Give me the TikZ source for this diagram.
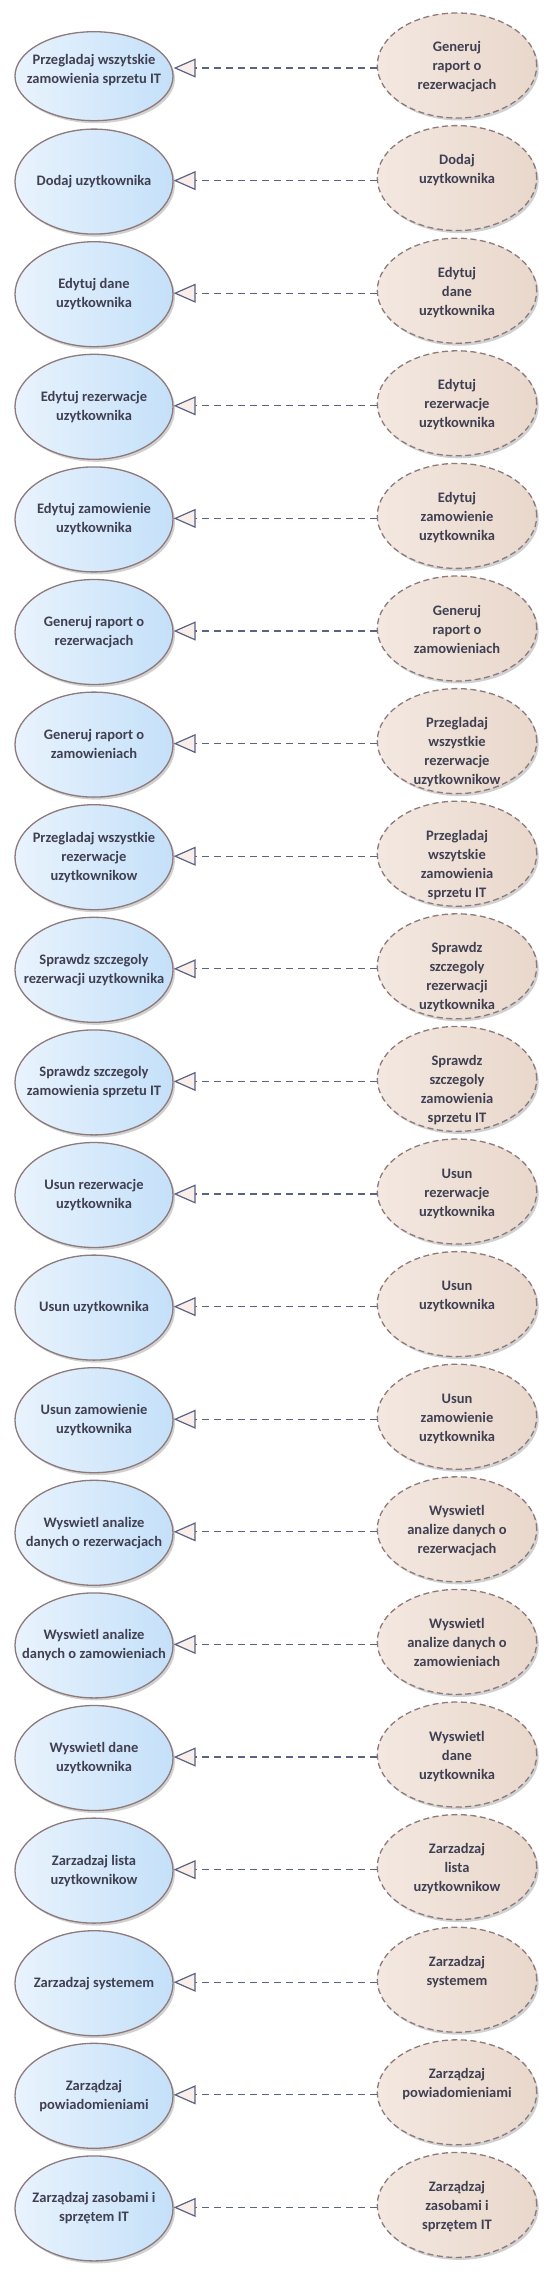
\documentclass[tikz,border=0pt]{standalone}
\usepackage{fontspec}
\setmainfont{Carlito}
\usetikzlibrary{shapes.geometric,arrows.meta,shadows}
\definecolor{txt}{RGB}{64,64,82}
\definecolor{ucborder}{RGB}{142,122,122}
\definecolor{bluel}{RGB}{233,243,253}
\definecolor{bluer}{RGB}{196,224,249}
\definecolor{tanl}{RGB}{243,232,225}
\definecolor{tanr}{RGB}{233,215,203}
\definecolor{depcol}{RGB}{90,100,130}
\definecolor{arrfill}{RGB}{250,238,235}
\newcommand{\uclabel}[2]{\smash{\makebox[0pt]{\raisebox{#1}{\begin{tabular}[t]{@{}c@{}}#2\end{tabular}}}}}
\newcommand{\ucrow}[4]{%
  \pgfmathsetmacro{\rowy}{68+112.6*(#1-1)}%
  \coordinate (a#1) at (0,\rowy);
  \node[leftuc] (l#1) at (94,\rowy+1) {\uclabel{#2}{#3}};
  \node[rightuc] (r#1) at (457,\rowy-2.5) {\uclabel{13.5pt}{#4}};
  \draw[dep] (r#1.west |- a#1) -- (l#1.east |- a#1);
}
\begin{document}
\begin{tikzpicture}[x=1pt,y=-1pt,
  ucbase/.style={ellipse, inner sep=0pt, text=txt,
    font=\fontsize{14.5}{19}\selectfont\bfseries,
    drop shadow={shadow xshift=2pt, shadow yshift=-2.5pt, fill=black, opacity=0.18}},
  leftuc/.style={ucbase, draw=ucborder, line width=1.3pt,
    left color=bluel, right color=bluer,
    minimum width=158pt, minimum height=105pt},
  rightuc/.style={ucbase, draw=ucborder, line width=1.3pt, dash pattern=on 6pt off 3.5pt,
    left color=tanl, right color=tanr,
    minimum width=159.4pt, minimum height=105pt},
  dep/.style={draw=depcol, line width=1.2pt, dash pattern=on 7pt off 5pt,
    -{Triangle[length=22pt, width=19pt, fill=arrfill]}}
]
\path[fill=white, use as bounding box] (0,0) rectangle (551,2274);

\coordinate (a1) at (0,68);
\node[leftuc, minimum height=89pt] (l1) at (94,76.2) {\uclabel{11.2pt}{Przegladaj wszytskie\\zamowienia sprzetu IT}};
\node[rightuc] (r1) at (457,65.5) {\uclabel{13.5pt}{Generuj\\raport o\\rezerwacjach}};
\draw[dep] (r1.west |- a1) -- (l1.east |- a1);

\ucrow{2}{-4pt}{Dodaj uzytkownika}{Dodaj\\uzytkownika}
\ucrow{3}{5.5pt}{Edytuj dane\\uzytkownika}{Edytuj\\dane\\uzytkownika}
\ucrow{4}{5.5pt}{Edytuj rezerwacje\\uzytkownika}{Edytuj\\rezerwacje\\uzytkownika}
\ucrow{5}{5.5pt}{Edytuj zamowienie\\uzytkownika}{Edytuj\\zamowienie\\uzytkownika}
\ucrow{6}{5.5pt}{Generuj raport o\\rezerwacjach}{Generuj\\raport o\\zamowieniach}
\ucrow{7}{5.5pt}{Generuj raport o\\zamowieniach}{Przegladaj\\wszystkie\\rezerwacje\\uzytkownikow}
\ucrow{8}{15pt}{Przegladaj wszystkie\\rezerwacje\\uzytkownikow}{Przegladaj\\wszytskie\\zamowienia\\sprzetu IT}
\ucrow{9}{5.5pt}{Sprawdz szczegoly\\rezerwacji uzytkownika}{Sprawdz\\szczegoly\\rezerwacji\\uzytkownika}
\ucrow{10}{5.5pt}{Sprawdz szczegoly\\zamowienia sprzetu IT}{Sprawdz\\szczegoly\\zamowienia\\sprzetu IT}
\ucrow{11}{5.5pt}{Usun rezerwacje\\uzytkownika}{Usun\\rezerwacje\\uzytkownika}
\ucrow{12}{-4pt}{Usun uzytkownika}{Usun\\uzytkownika}
\ucrow{13}{5.5pt}{Usun zamowienie\\uzytkownika}{Usun\\zamowienie\\uzytkownika}
\ucrow{14}{5.5pt}{Wyswietl analize\\danych o rezerwacjach}{Wyswietl\\analize danych o\\rezerwacjach}
\ucrow{15}{5.5pt}{Wyswietl analize\\danych o zamowieniach}{Wyswietl\\analize danych o\\zamowieniach}
\ucrow{16}{5.5pt}{Wyswietl dane\\uzytkownika}{Wyswietl\\dane\\uzytkownika}
\ucrow{17}{5.5pt}{Zarzadzaj lista\\uzytkownikow}{Zarzadzaj\\lista\\uzytkownikow}
\ucrow{18}{-4pt}{Zarzadzaj systemem}{Zarzadzaj\\systemem}
\ucrow{19}{5.5pt}{Zarządzaj\\powiadomieniami}{Zarządzaj\\powiadomieniami}
\ucrow{20}{5.5pt}{Zarządzaj zasobami i\\sprzętem IT}{Zarządzaj\\zasobami i\\sprzętem IT}
\end{tikzpicture}
\end{document}
